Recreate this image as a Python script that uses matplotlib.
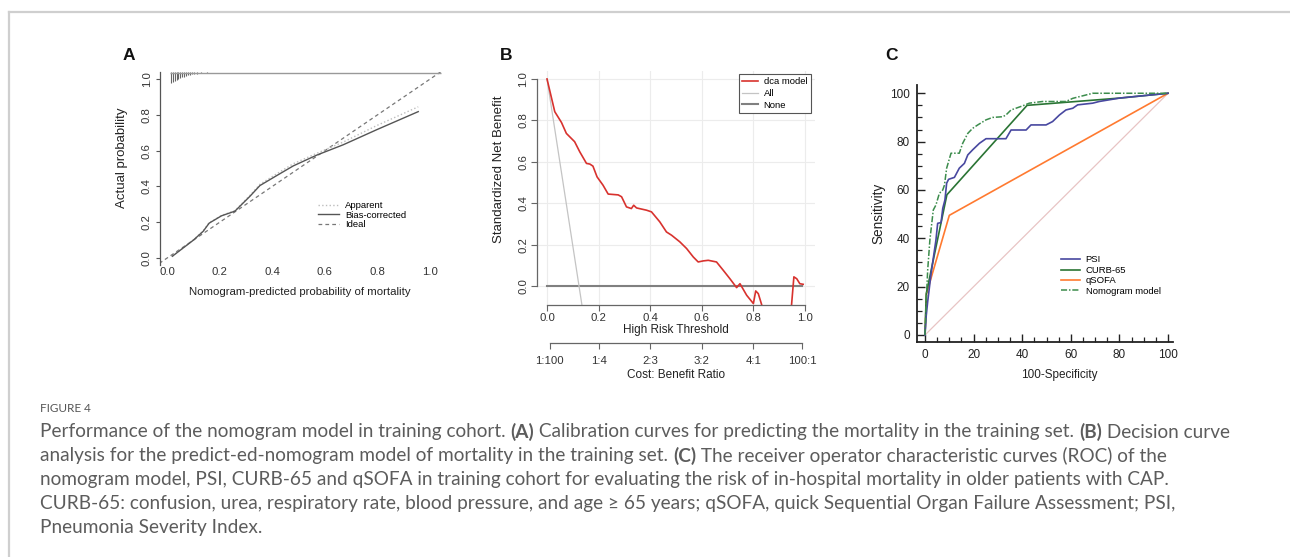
import matplotlib
matplotlib.use("Agg")
import matplotlib.pyplot as plt
from matplotlib.lines import Line2D
import numpy as np

# ---------------- data ----------------
# Panel A: calibration
cal_pred = [0.02, 0.06, 0.10, 0.137, 0.16, 0.207, 0.258, 0.315, 0.353, 0.416, 0.48, 0.569, 0.67, 0.797, 0.955]
cal_bias = [0.01, 0.055, 0.10, 0.149, 0.195, 0.236, 0.262, 0.345, 0.405, 0.46, 0.515, 0.575, 0.633, 0.717, 0.818]
cal_apparent = [0.01, 0.056, 0.102, 0.152, 0.198, 0.238, 0.265, 0.35, 0.412, 0.47, 0.527, 0.585, 0.648, 0.74, 0.845]
ideal_x = [-0.03, 1.04]
ideal_y = [-0.03, 1.04]
rug_x = [0.015, 0.022, 0.029, 0.036, 0.043, 0.05, 0.057, 0.064, 0.071, 0.078, 0.086, 0.094, 0.104, 0.115, 0.13, 0.15]
rug_len = [0.06, 0.058, 0.05, 0.045, 0.04, 0.035, 0.03, 0.026, 0.022, 0.02, 0.017, 0.014, 0.012, 0.01, 0.008, 0.006]
rug_span = [0.01, 1.04]

# Panel B: decision curve
dca_t = [0.0, 0.03, 0.056, 0.075, 0.107, 0.127, 0.153, 0.166, 0.178, 0.194, 0.217, 0.237, 0.276, 0.289,
         0.308, 0.327, 0.336, 0.347, 0.386, 0.405, 0.437, 0.463, 0.483, 0.515, 0.541, 0.567, 0.586, 0.605,
         0.625, 0.657, 0.683, 0.709, 0.735, 0.748, 0.774, 0.80, 0.809, 0.819, 0.832, 0.86, 0.90, 0.94,
         0.948, 0.957, 0.968, 0.98, 0.993]
dca_nb = [1.0, 0.842, 0.79, 0.737, 0.697, 0.648, 0.592, 0.589, 0.579, 0.527, 0.487, 0.444, 0.44, 0.431,
          0.382, 0.374, 0.39, 0.377, 0.366, 0.358, 0.31, 0.261, 0.245, 0.213, 0.181, 0.14, 0.116, 0.121,
          0.124, 0.116, 0.076, 0.035, -0.008, 0.011, -0.045, -0.085, -0.024, -0.037, -0.09, -0.4, -0.6, -0.3,
          -0.09, 0.044, 0.035, 0.011, 0.008]
all_t = [0.0, 0.124, 0.14]
all_nb = [1.0, 0.0, -0.13]
none_t = [0.0, 0.99]
none_nb = [0.0, 0.0]
cost_pos = [0.0099, 0.2, 0.4, 0.6, 0.8, 0.99]
cost_labels = ["1:100", "1:4", "2:3", "3:2", "4:1", "100:1"]

# Panel C: ROC curves (100-Specificity, Sensitivity)
psi_x = [0, 0.5, 1.1, 2.5, 4.5, 5.2, 6.6, 7.3, 8.2, 8.9, 9.7, 12.1, 14.1, 16.2, 17.6, 19.6, 22.4, 25.1,
         33.3, 35.4, 41.6, 43.6, 49.8, 52.5, 55.3, 58.0, 60.8, 62.8, 69.0, 71.7, 80.0, 100]
psi_y = [0, 8, 13.8, 25.5, 39.3, 46.2, 46.5, 52.4, 55.9, 62.8, 64.4, 65.2, 69.0, 71.0, 74.5, 76.6, 79.3, 81.2,
         81.2, 84.8, 84.8, 86.9, 86.9, 88.3, 91.0, 93.1, 93.8, 95.2, 95.9, 96.6, 98.0, 100]
curb_x = [0, 0.5, 9.0, 42.0, 80.0, 100]
curb_y = [0, 17, 58, 95, 98, 100]
qsofa_x = [0, 0.6, 10.0, 100]
qsofa_y = [0, 17, 49.5, 100]
nomo_x = [0, 0.4, 1.1, 2.0, 3.4, 4.5, 5.9, 7.3, 8.0, 8.9, 10.7, 14.1, 15.5, 17.6, 19.6, 21.7, 25.1, 27.8,
          32.0, 33.3, 35.4, 37.4, 40.2, 42.9, 48.4, 58.0, 60.8, 66.3, 69.0, 80.0, 100]
nomo_y = [0, 11.7, 26.9, 39.3, 51.7, 53.8, 58.6, 60.0, 62.0, 69.0, 75.2, 75.2, 79.3, 83.4, 85.5, 86.9, 89.0, 90.0,
          90.3, 91.0, 93.1, 93.8, 94.8, 95.9, 96.6, 96.6, 97.9, 99.3, 100, 100, 100]
diag_x = [0, 100]
diag_y = [0, 100]

caption_lines = [
    [("Performance of the nomogram model in training cohort. ", False), ("(A)", True),
     (" Calibration curves for predicting the mortality in the training set. ", False), ("(B)", True),
     (" Decision curve", False)],
    [("analysis for the predict-ed-nomogram model of mortality in the training set. ", False), ("(C)", True),
     (" The receiver operator characteristic curves (ROC) of the", False)],
    [("nomogram model, PSI, CURB-65 and qSOFA in training cohort for evaluating the risk of in-hospital mortality in older patients with CAP.", False)],
    [("CURB-65: confusion, urea, respiratory rate, blood pressure, and age \u2265 65 years; qSOFA, quick Sequential Organ Failure Assessment; PSI,", False)],
    [("Pneumonia Severity Index.", False)],
]

# ---------------- figure ----------------
W, H = 1290, 557
fig = plt.figure(figsize=(W / 100, H / 100), dpi=100)
plt.rcParams["font.family"] = ["Liberation Sans", "DejaVu Sans"]


def fx(px):
    return px / W


def fy(py):
    return 1 - py / H


def add_ax(left, top, right, bottom):
    return fig.add_axes([fx(left), fy(bottom), (right - left) / W, (bottom - top) / H])


# page border (left and top)
fig.add_artist(Line2D([fx(9), fx(9)], [0, fy(12)], color="#cfcfcf", lw=1.6))
fig.add_artist(Line2D([fx(9), 1], [fy(12), fy(12)], color="#cfcfcf", lw=1.6))

# panel letters
for lab, (px, py) in {"A": (129, 56), "B": (506, 56), "C": (891, 56)}.items():
    fig.text(fx(px), fy(py), lab, fontsize=12.5, fontweight="bold", ha="center", va="center", color="#111")

tick_col = "#333333"

# ---------------- Panel A ----------------
axA = add_ax(160, 71.9, 440.6, 265.2)
axA.set_xlim(-0.027, 1.04)
axA.set_ylim(-0.04, 1.04)
for s in ["top", "right", "bottom"]:
    axA.spines[s].set_visible(False)
axA.spines["left"].set_color("#555")
axA.spines["left"].set_linewidth(0.9)
axA.set_xticks(np.arange(0, 1.01, 0.2))
axA.set_xticklabels(["0.0", "0.2", "0.4", "0.6", "0.8", "1.0"])
axA.set_yticks(np.arange(0, 1.01, 0.2))
axA.set_yticklabels(["0.0", "0.2", "0.4", "0.6", "0.8", "1.0"], rotation=90, va="center")
axA.tick_params(axis="x", length=0, labelsize=8.2, colors=tick_col, pad=1)
axA.tick_params(axis="y", length=3, labelsize=8.2, colors=tick_col, pad=3, color="#555")
axA.plot(ideal_x, ideal_y, ls=(0, (3, 2.5)), color="#777", lw=0.9, label="Ideal")
axA.plot(cal_pred, cal_apparent, ls=":", color="#bdbdbd", lw=1.0, label="Apparent")
axA.plot(cal_pred, cal_bias, ls="-", color="#555", lw=1.0, label="Bias-corrected")
axA.vlines(rug_x, [1.04 - l for l in rug_len], 1.04, color="#666", lw=0.8, clip_on=False)
axA.hlines(1.035, rug_span[0], rug_span[1], color="#999", lw=1.0, clip_on=False)
hA, lA = axA.get_legend_handles_labels()
order = [lA.index("Apparent"), lA.index("Bias-corrected"), lA.index("Ideal")]
axA.legend([hA[i] for i in order], [lA[i] for i in order], loc="upper left",
           bbox_to_anchor=(0.545, 0.355), frameon=False, fontsize=6.8, handlelength=2.3,
           labelspacing=0.05, handletextpad=0.6, borderpad=0)
axA.set_xlabel("Nomogram-predicted probability of mortality", fontsize=8.2, color="#222")
axA.xaxis.set_label_coords(0.5, -0.115)
axA.set_ylabel("Actual probability", fontsize=9.5, color="#222")
axA.yaxis.set_label_coords(-0.115, 0.555)

# ---------------- Panel B ----------------
axB = add_ax(536.7, 70.7, 815.3, 304.6)
axB.set_xlim(-0.04, 1.04)
axB.set_ylim(-0.09, 1.04)
for v in np.arange(0, 1.01, 0.2):
    axB.axhline(v, color="#ececec", lw=0.8, zorder=0)
    axB.axvline(v, color="#ececec", lw=0.8, zorder=0)
for s in ["top", "right"]:
    axB.spines[s].set_visible(False)
for s in ["left", "bottom"]:
    axB.spines[s].set_bounds(0, 1)
    axB.spines[s].set_color("#666")
    axB.spines[s].set_linewidth(0.9)
axB.set_xticks(np.arange(0, 1.01, 0.2))
axB.set_xticklabels(["0.0", "0.2", "0.4", "0.6", "0.8", "1.0"])
axB.set_yticks(np.arange(0, 1.01, 0.2))
axB.set_yticklabels(["0.0", "0.2", "0.4", "0.6", "0.8", "1.0"], rotation=90, va="center")
axB.tick_params(length=4, labelsize=8.2, colors=tick_col, color="#666", pad=2)
axB.plot(none_t, none_nb, color="#808080", lw=1.5, label="None")
axB.plot(all_t, all_nb, color="#c4c4c4", lw=0.9, label="All")
axB.plot(dca_t, dca_nb, color="#d8322e", lw=1.2, label="dca model")
hB, lB = axB.get_legend_handles_labels()
legB = axB.legend([hB[2], hB[1], hB[0]], [lB[2], lB[1], lB[0]], loc="upper right",
                  bbox_to_anchor=(1.0, 1.007), fontsize=6.8, handlelength=1.7, labelspacing=0.3,
                  fancybox=False, framealpha=1, edgecolor="#555", borderpad=0.35, handletextpad=0.6)
legB.get_frame().set_linewidth(0.8)
axB.set_xlabel("High Risk Threshold", fontsize=8.5, color="#222")
axB.xaxis.set_label_coords(0.5, -0.083)
axB.set_ylabel("Standardized Net Benefit", fontsize=9.5, color="#222")
axB.yaxis.set_label_coords(-0.114, 0.58)

axB2 = fig.add_axes([fx(536.7), fy(343), (815.3 - 536.7) / W, 1e-4])
axB2.set_xlim(-0.04, 1.04)
for s in ["top", "right", "left"]:
    axB2.spines[s].set_visible(False)
axB2.spines["bottom"].set_bounds(cost_pos[0], cost_pos[-1])
axB2.spines["bottom"].set_color("#666")
axB2.spines["bottom"].set_linewidth(0.9)
axB2.set_yticks([])
axB2.set_xticks(cost_pos)
axB2.set_xticklabels(cost_labels)
axB2.tick_params(axis="x", length=4, labelsize=8.2, colors=tick_col, color="#666", pad=5)
axB2.patch.set_visible(False)
axB2.set_xlabel("Cost: Benefit Ratio", fontsize=8.5, color="#222", labelpad=2.5)

# ---------------- Panel C ----------------
axC = add_ax(917, 84.8, 1172.9, 342)
axC.set_xlim(-3.3, 102)
axC.set_ylim(-2.9, 103.5)
for s in ["top", "right"]:
    axC.spines[s].set_visible(False)
for s in ["left", "bottom"]:
    axC.spines[s].set_color("#222")
    axC.spines[s].set_linewidth(1.3)
axC.set_xticks(np.arange(0, 101, 20))
axC.set_yticks(np.arange(0, 101, 20))
axC.set_xticks(np.arange(0, 101, 5), minor=True)
axC.set_yticks(np.arange(0, 101, 5), minor=True)
axC.tick_params(which="major", direction="in", length=6, width=1.0, labelsize=8.5, colors="#222", pad=5)
axC.tick_params(which="minor", direction="in", length=3.5, width=0.9, color="#222")
axC.plot(diag_x, diag_y, color="#e8c4c4", lw=0.9)
axC.plot(qsofa_x, qsofa_y, color="#ff7a30", lw=1.2, label="qSOFA")
axC.plot(curb_x, curb_y, color="#2a7434", lw=1.2, label="CURB-65")
axC.plot(psi_x, psi_y, color="#4848a0", lw=1.2, label="PSI")
axC.plot(nomo_x, nomo_y, color="#3c8c4c", lw=1.1, ls=(0, (4, 1.2, 1, 1.2)), label="Nomogram model")
hC, lC = axC.get_legend_handles_labels()
idx = [lC.index(n) for n in ["PSI", "CURB-65", "qSOFA", "Nomogram model"]]
axC.legend([hC[i] for i in idx], [lC[i] for i in idx], loc="upper left", bbox_to_anchor=(0.545, 0.355),
           frameon=False, fontsize=6.8, handlelength=2.0, labelspacing=0.15, handletextpad=0.6, borderpad=0)
axC.set_xlabel("100-Specificity", fontsize=8.5, color="#222")
axC.xaxis.set_label_coords(0.555, -0.105)
axC.set_ylabel("Sensitivity", fontsize=9.8, color="#222")
axC.yaxis.set_label_coords(-0.125, 0.5)

# ---------------- caption ----------------
cap_col = "#5c5c5c"
cap_family = ["Lato", "DejaVu Sans"]
renderer = fig.canvas.get_renderer()
fig.text(fx(40), fy(408), "FIGURE 4", fontsize=8.5, family=cap_family, color="#555", va="center")


def run_width(runs, size):
    w = 0
    for txt, b in runs:
        t = fig.text(0, 0, txt, fontsize=size, family=cap_family, fontweight="bold" if b else "normal")
        w += t.get_window_extent(renderer).width
        t.remove()
    return w


base = 12.0
size = base * (1232 - 40) / run_width(caption_lines[0], base)
for i, runs in enumerate(caption_lines):
    x = 40.0
    ypx = 432 + i * 24
    for txt, b in runs:
        t = fig.text(fx(x), fy(ypx), txt, fontsize=size, family=cap_family, color=cap_col,
                     fontweight="bold" if b else "normal", va="center")
        x += t.get_window_extent(renderer).width

fig.savefig("out.png", dpi=100)
